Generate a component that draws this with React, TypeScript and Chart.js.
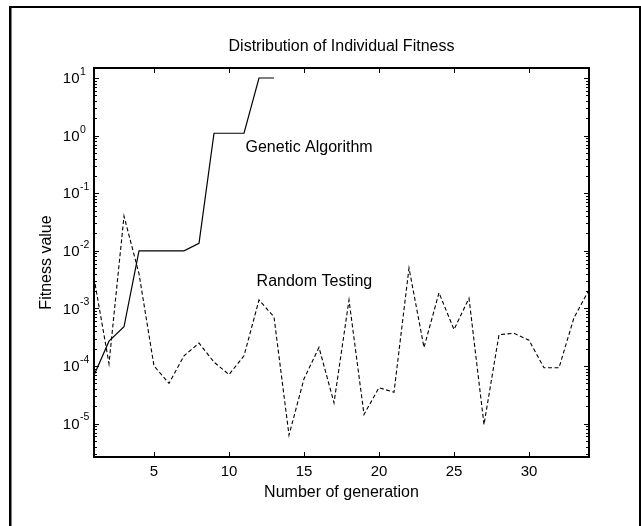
import { useEffect, useRef } from 'react';
import { Chart, registerables } from 'chart.js';

Chart.register(...registerables);

// Generation index for each series
const rtGenerations = [
  1, 2, 3, 4, 5, 6, 7, 8, 9, 10, 11, 12, 13, 14, 15, 16, 17,
  18, 19, 20, 21, 22, 23, 24, 25, 26, 27, 28, 29, 30, 31, 32, 33, 34,
];
const gaGenerations = [1, 2, 3, 4, 5, 6, 7, 8, 9, 10, 11, 12, 13];

// Best fitness found per generation
const gaFitness = [
  6.9e-5, 2.7e-4, 4.8e-4, 1.0e-2, 1.0e-2, 1.0e-2, 1.0e-2, 1.35e-2, 1.1, 1.1, 1.1, 10, 10,
];
const rtFitness = [
  3.4e-3, 1.1e-4, 4.0e-2, 4.0e-3, 1.0e-4, 5.0e-5, 1.5e-4, 2.5e-4, 1.17e-4, 7.1e-5,
  1.5e-4, 1.4e-3, 7.1e-4, 6.3e-6, 6.0e-5, 2.1e-4, 2.3e-5, 1.4e-3, 1.44e-5, 4.2e-5,
  3.5e-5, 5.0e-3, 2.1e-4, 1.87e-3, 4.3e-4, 1.5e-3, 9.6e-6, 3.5e-4, 3.7e-4, 2.8e-4,
  9.3e-5, 9.3e-5, 6.9e-4, 2.1e-3,
];

// Axis ticks
const xTicks = [5, 10, 15, 20, 25, 30];
const yExponents = [-5, -4, -3, -2, -1, 0, 1];

const X_MIN = 1;
const X_MAX = 34;
const Y_MIN = Math.pow(10, -5.58);
const Y_MAX = Math.pow(10, 1.174);

const TITLE = 'Distribution of Individual Fitness';
const X_TITLE = 'Number of generation';
const Y_TITLE = 'Fitness value';

// In-plot annotations, anchored at data coordinates (left edge, vertical middle)
const annotations = [
  { text: 'Genetic Algorithm', x: 11.1, y: 0.62 },
  { text: 'Random Testing', x: 11.84, y: 2.95e-3 },
];

const FONT = "'Liberation Sans', Arial, Helvetica, sans-serif";

const matlabAxes = {
  id: 'matlabAxes',
  afterDatasetsDraw(chart: any) {
    const ctx = chart.ctx as CanvasRenderingContext2D;
    const { left, right, top, bottom } = chart.chartArea;
    const xs = chart.scales.x;
    const ys = chart.scales.y;
    ctx.save();

    // figure frame
    ctx.fillStyle = '#000';
    ctx.fillRect(9, 6, 2.5, 526);
    ctx.fillRect(9, 6, 641, 2);
    ctx.fillRect(639, 6, 2, 526);

    // axes box
    ctx.strokeStyle = '#000';
    ctx.lineWidth = 2;
    ctx.strokeRect(left, top, right - left, bottom - top);

    // x ticks, bottom and top, pointing inward
    ctx.lineWidth = 1;
    ctx.beginPath();
    for (const t of xTicks) {
      const px = Math.round(xs.getPixelForValue(t)) + 0.5;
      ctx.moveTo(px, bottom);
      ctx.lineTo(px, bottom - 5);
      ctx.moveTo(px, top);
      ctx.lineTo(px, top + 5);
    }
    // y ticks (major + minor), left and right
    for (let d = -6; d <= 1; d++) {
      for (let k = 1; k <= 9; k++) {
        const v = k * Math.pow(10, d);
        if (v < Y_MIN || v > Y_MAX) continue;
        const py = Math.round(ys.getPixelForValue(v)) + 0.5;
        const len = k === 1 ? 5 : 3;
        ctx.moveTo(left, py);
        ctx.lineTo(left + len, py);
        ctx.moveTo(right, py);
        ctx.lineTo(right - len, py);
      }
    }
    ctx.stroke();

    ctx.fillStyle = '#000';
    // x tick labels
    ctx.font = `15px ${FONT}`;
    ctx.textAlign = 'center';
    ctx.textBaseline = 'middle';
    for (const t of xTicks) {
      ctx.fillText(String(t), xs.getPixelForValue(t), 472);
    }

    // y tick labels: 10 with a raised exponent
    for (const e of yExponents) {
      const py = ys.getPixelForValue(Math.pow(10, e));
      ctx.font = `15px ${FONT}`;
      ctx.textAlign = 'right';
      ctx.textBaseline = 'middle';
      ctx.fillText('10', 79.5, py + 1);
      ctx.font = `10.5px ${FONT}`;
      ctx.textAlign = 'left';
      ctx.fillText(String(e), 80, py - 6);
    }

    // titles
    ctx.font = `16px ${FONT}`;
    ctx.textAlign = 'center';
    ctx.textBaseline = 'middle';
    ctx.fillText(TITLE, (left + right) / 2, 47);
    ctx.fillText(X_TITLE, (left + right) / 2, 493);
    ctx.save();
    ctx.translate(47, (top + bottom) / 2);
    ctx.rotate(-Math.PI / 2);
    ctx.fillText(Y_TITLE, 0, 0);
    ctx.restore();

    // annotations
    ctx.textAlign = 'left';
    for (const a of annotations) {
      ctx.fillText(a.text, xs.getPixelForValue(a.x), ys.getPixelForValue(a.y));
    }

    ctx.restore();
  },
};

export default function App() {
  const canvasRef = useRef<HTMLCanvasElement>(null);

  useEffect(() => {
    const canvas = canvasRef.current;
    if (!canvas) return;
    const chart = new Chart(canvas, {
      type: 'line',
      data: {
        datasets: [
          {
            label: 'Genetic Algorithm',
            data: gaGenerations.map((g, i) => ({ x: g, y: gaFitness[i] })),
            borderColor: '#000',
            borderWidth: 1.2,
            pointRadius: 0,
            tension: 0,
            fill: false,
          },
          {
            label: 'Random Testing',
            data: rtGenerations.map((g, i) => ({ x: g, y: rtFitness[i] })),
            borderColor: '#000',
            borderWidth: 1.1,
            borderDash: [4, 2.5],
            pointRadius: 0,
            tension: 0,
            fill: false,
          },
        ],
      },
      options: {
        animation: false,
        responsive: false,
        devicePixelRatio: 1,
        layout: { padding: { left: 94, top: 68, right: 52, bottom: 69 } },
        plugins: {
          legend: { display: false },
          tooltip: { enabled: false },
          title: { display: false },
        },
        scales: {
          x: { type: 'linear', min: X_MIN, max: X_MAX, display: false },
          y: { type: 'logarithmic', min: Y_MIN, max: Y_MAX, display: false },
        },
      },
      plugins: [matlabAxes],
    });
    return () => chart.destroy();
  }, []);

  return (
    <div style={{ position: 'fixed', left: 0, top: 0, width: 641, height: 526, background: '#fff' }}>
      <canvas ref={canvasRef} width={641} height={526} style={{ width: 641, height: 526, display: 'block' }} />
    </div>
  );
}
